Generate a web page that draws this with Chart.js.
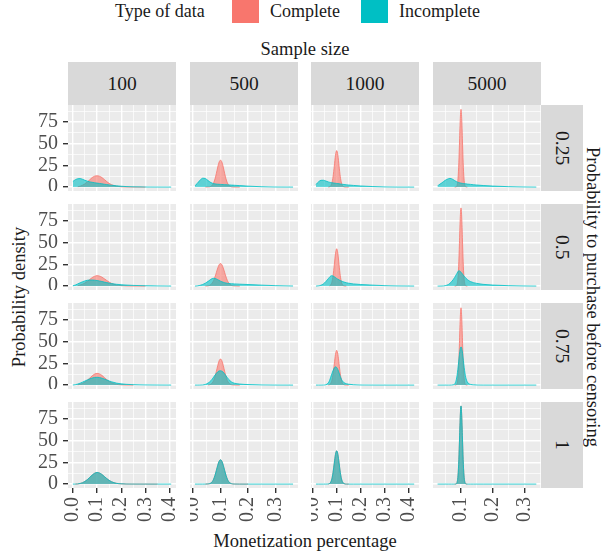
<!DOCTYPE html>
<html>
<head>
<meta charset="utf-8">
<script src="https://cdn.jsdelivr.net/npm/chart.js@4.4.1/dist/chart.umd.min.js"></script>
<style>
body { margin: 0; background: #fff; }
#fig { position: relative; width: 602px; height: 559px; overflow: hidden; font-family: "Liberation Serif", "DejaVu Serif", "Times New Roman", Times, serif; color: #1a1a1a; }
#fig canvas { position: absolute; }
.lbl { position: absolute; font-size: 18px; white-space: nowrap; text-align: center; height: 22px; line-height: 22px; }
.strip { position: absolute; background: #d9d9d9; display: flex; align-items: center; justify-content: center; font-size: 19.5px; }
.strip.right span { writing-mode: vertical-rl; }
.key { position: absolute; }
</style>
</head>
<body>
<div id="fig"></div>
<script>
// facet labels
const sampleSizes = ['100', '500', '1000', '5000'];
const purchaseProbs = ['0.25', '0.5', '0.75', '1'];
const seriesNames = ['Complete', 'Incomplete'];

// y axis (shared)
const yTicks = [0, 25, 50, 75];
const yMinor = [12.5, 37.5, 62.5, 87.5];
const yRange = [-4.5, 94.5];

// x axes (free per sample size column)
const xTicksByCol = [[0, 0.1, 0.2, 0.3, 0.4], [0, 0.1, 0.2, 0.3], [0, 0.1, 0.2, 0.3, 0.4], [0.1, 0.2, 0.3]];
const xMinorByCol = [[0.05, 0.15, 0.25, 0.35], [0.05, 0.15, 0.25, 0.35], [0.05, 0.15, 0.25, 0.35], [0.05, 0.15, 0.25, 0.35]];
const xRangeByCol = [[-0.0203, 0.4269], [-0.011, 0.382], [-0.0067, 0.442], [0.0115, 0.3528]];

// density grids, one per column
const xGrid100 = [0, 0.01, 0.02, 0.03, 0.04, 0.05, 0.06, 0.07, 0.08, 0.09, 0.10, 0.11, 0.12, 0.13, 0.14, 0.15, 0.16, 0.18, 0.20, 0.22, 0.25, 0.30, 0.35, 0.407];
const xGrid500 = [0.007, 0.015, 0.025, 0.035, 0.045, 0.055, 0.065, 0.07, 0.075, 0.08, 0.085, 0.09, 0.095, 0.1, 0.105, 0.11, 0.115, 0.12, 0.125, 0.13, 0.14, 0.15, 0.17, 0.2, 0.25, 0.3, 0.364];
const xGrid1000 = [0.014, 0.025, 0.035, 0.045, 0.055, 0.065, 0.07, 0.075, 0.08, 0.085, 0.09, 0.095, 0.1, 0.105, 0.11, 0.115, 0.12, 0.125, 0.13, 0.14, 0.15, 0.17, 0.2, 0.25, 0.3, 0.35, 0.422];
const xGrid5000 = [0.026, 0.03, 0.04, 0.05, 0.06, 0.065, 0.07, 0.075, 0.08, 0.085, 0.0875, 0.09, 0.0925, 0.095, 0.0975, 0.1, 0.1025, 0.105, 0.1075, 0.11, 0.1125, 0.115, 0.12, 0.125, 0.13, 0.14, 0.15, 0.17, 0.2, 0.25, 0.3, 0.338];

// n = 100
const complete_n100_p025 = [null, null, 0.4, 1.0, 2.2, 3.8, 6.0, 8.5, 11.0, 12.6, 13.0, 12.5, 11.0, 8.8, 6.4, 4.3, 2.8, 1.1, 0.4, 0.15, 0.05, 0, null, null];
const incomplete_n100_p025 = [6.5, 8.5, 9.6, 9.8, 9.0, 7.8, 6.8, 6.0, 5.5, 5.0, 4.6, 4.2, 3.8, 3.3, 2.9, 2.5, 2.1, 1.5, 1.0, 0.6, 0.3, 0.1, 0.05, 0];
const complete_n100_p05 = [null, null, 0.5, 1.2, 2.1, 3.6, 5.5, 7.7, 9.8, 11.4, 12.0, 11.6, 10.3, 8.5, 6.5, 4.6, 3.1, 1.3, 0.5, 0.2, 0.05, 0, null, null];
const incomplete_n100_p05 = [0.3, 1.2, 2.5, 3.8, 5.0, 6.0, 6.7, 7.0, 7.0, 6.8, 6.4, 5.9, 5.3, 4.6, 4.0, 3.4, 2.9, 2.1, 1.6, 1.2, 0.8, 0.4, 0.2, 0.05];
const complete_n100_p075 = [null, null, 0.3, 0.9, 1.9, 3.4, 5.6, 8.1, 10.7, 12.7, 13.5, 12.9, 11.2, 8.8, 6.3, 4.2, 2.6, 0.9, 0.3, 0.1, 0, null, null, null];
const incomplete_n100_p075 = [0.1, 0.5, 1.2, 2.2, 3.4, 4.7, 6.0, 7.2, 8.2, 8.8, 9.0, 8.7, 8.0, 7.0, 5.9, 4.8, 3.8, 2.3, 1.4, 0.9, 0.5, 0.2, 0.1, 0.03];
const complete_n100_p1 = [null, 0.05, 0.2, 0.7, 1.6, 3.1, 5.2, 7.8, 10.4, 12.5, 13.4, 12.8, 11.1, 8.8, 6.4, 4.3, 2.7, 0.9, 0.3, 0.1, 0.05, 0.02, 0, null];
const incomplete_n100_p1 = [0.01, 0.05, 0.2, 0.7, 1.6, 3.1, 5.2, 7.8, 10.4, 12.5, 13.4, 12.8, 11.1, 8.8, 6.4, 4.3, 2.7, 0.9, 0.3, 0.1, 0.05, 0.02, 0.01, 0];

// n = 500
const complete_n500_p025 = [null, null, null, null, 0.1, 0.2, 0.8, 2.2, 4.9, 9.5, 15.9, 23.1, 28.8, 31.0, 28.8, 23.1, 15.9, 9.5, 4.9, 2.2, 0.3, 0.05, 0, null, null, null, null];
const incomplete_n500_p025 = [1.5, 4.0, 7.8, 10.2, 9.8, 7.5, 5.2, 4.5, 4.0, 3.7, 3.5, 3.3, 3.2, 3.1, 3.0, 2.9, 2.8, 2.7, 2.6, 2.5, 2.3, 2.1, 1.7, 1.1, 0.4, 0.1, 0.02];
const complete_n500_p05 = [null, null, null, null, 0.05, 0.3, 1.7, 3.5, 6.5, 10.7, 15.8, 20.8, 24.6, 26.0, 24.6, 20.8, 15.8, 10.7, 6.5, 3.5, 0.8, 0.2, 0, null, null, null, null];
const incomplete_n500_p05 = [0, 0.2, 0.8, 1.8, 3.4, 5.5, 7.8, 8.7, 9.0, 8.8, 8.2, 7.4, 6.5, 5.7, 5.0, 4.4, 3.9, 3.5, 3.2, 3.0, 2.7, 2.5, 2.2, 1.8, 1.1, 0.5, 0.1];
const complete_n500_p075 = [null, null, null, null, null, 0.1, 0.9, 2.4, 5.1, 9.7, 15.9, 22.6, 28.0, 30.0, 28.0, 22.6, 15.9, 9.7, 5.1, 2.4, 0.4, 0.1, 0, null, null, null, null];
const incomplete_n500_p075 = [0, 0, 0.05, 0.2, 0.8, 2.4, 5.0, 6.9, 9.2, 11.5, 13.6, 15.3, 16.3, 16.5, 16.0, 14.8, 12.9, 10.7, 8.5, 6.5, 3.7, 2.2, 1.2, 0.6, 0.2, 0.05, 0];
const complete_n500_p1 = [null, null, null, null, 0.05, 0.2, 1.2, 2.8, 5.7, 10.1, 15.8, 21.7, 26.3, 28.0, 26.3, 21.7, 15.8, 10.1, 5.7, 2.8, 0.5, 0.1, 0.02, 0, null, null, null];
const incomplete_n500_p1 = [0, 0, 0, 0.01, 0.05, 0.2, 1.2, 2.8, 5.7, 10.1, 15.8, 21.7, 26.3, 28.0, 26.3, 21.7, 15.8, 10.1, 5.7, 2.8, 0.5, 0.1, 0.02, 0, 0, 0, 0];

// n = 1000
const complete_n1000_p025 = [null, null, null, null, null, 0.05, 0.3, 1.3, 4.6, 12.1, 24.1, 36.6, 42.0, 36.6, 24.1, 12.1, 4.6, 1.3, 0.3, 0.02, 0, null, null, null, null, null, null];
const incomplete_n1000_p025 = [3.0, 6.2, 7.8, 7.9, 7.0, 6.0, 5.6, 5.3, 5.0, 4.8, 4.6, 4.4, 4.2, 4.0, 3.8, 3.6, 3.4, 3.2, 3.0, 2.7, 2.4, 1.9, 1.3, 0.6, 0.2, 0.05, 0];
const complete_n1000_p05 = [null, null, null, null, null, null, 0.2, 1.2, 4.4, 12.0, 24.3, 37.3, 43.0, 37.3, 24.3, 12.0, 4.4, 1.2, 0.2, 0, null, null, null, null, null, null, null];
const incomplete_n1000_p05 = [0, 0.3, 1.0, 2.6, 5.2, 8.5, 10.2, 11.6, 12.0, 11.6, 10.8, 9.8, 8.8, 7.9, 7.1, 6.4, 5.8, 5.2, 4.7, 3.9, 3.3, 2.5, 1.8, 1.1, 0.5, 0.2, 0.05];
const complete_n1000_p075 = [null, null, null, null, null, 0.1, 0.4, 1.8, 5.4, 13.0, 24.3, 35.3, 40.0, 35.3, 24.3, 13.0, 5.4, 1.8, 0.4, 0.05, 0, null, null, null, null, null, null];
const incomplete_n1000_p075 = [0, 0, 0, 0.1, 0.4, 2.5, 5.0, 9.0, 13.0, 16.8, 19.6, 21.0, 20.3, 17.8, 14.0, 10.0, 6.6, 4.3, 2.9, 1.6, 1.0, 0.4, 0.1, 0.02, 0, 0, 0];
const complete_n1000_p1 = [null, null, null, null, null, 0.1, 0.6, 2.1, 6.0, 13.6, 24.2, 34.2, 38.4, 34.2, 24.2, 13.6, 6.0, 2.1, 0.6, 0.05, 0, null, null, null, null, null, null];
const incomplete_n1000_p1 = [0, 0, 0, 0, 0.02, 0.1, 0.6, 2.1, 6.0, 13.6, 24.2, 34.2, 38.4, 34.2, 24.2, 13.6, 6.0, 2.1, 0.6, 0.05, 0, 0, 0, 0, 0, 0, 0];

// n = 5000
const complete_n5000_p025 = [null, null, null, null, null, null, null, null, 0, 0.3, 1.9, 7.6, 22.3, 48.3, 76.7, 89.5, 76.7, 48.3, 22.3, 7.6, 1.9, 0.3, 0, null, null, null, null, null, null, null, null, null];
const incomplete_n5000_p025 = [1.5, 2.5, 5.0, 7.8, 9.6, 10.0, 9.7, 8.7, 7.5, 6.4, 6.0, 5.6, 5.3, 5.0, 4.8, 4.6, 4.4, 4.2, 4.1, 4.0, 3.9, 3.8, 3.5, 3.3, 3.1, 2.7, 2.4, 1.8, 1.2, 0.5, 0.15, 0.02];
const complete_n5000_p05 = [null, null, null, null, null, null, null, null, 0, 0.3, 1.9, 7.8, 22.8, 48.8, 77.5, 90.0, 77.0, 48.3, 22.3, 7.6, 1.9, 0.3, 0, null, null, null, null, null, null, null, null, null];
const incomplete_n5000_p05 = [0, 0, 0.1, 0.5, 1.8, 3.2, 5.0, 7.3, 10.0, 13.2, 14.8, 16.5, 17.6, 17.5, 16.9, 16.0, 14.9, 13.7, 12.5, 11.4, 10.3, 9.3, 7.6, 6.2, 5.2, 3.9, 3.1, 2.0, 1.2, 0.5, 0.15, 0.03];
const complete_n5000_p075 = [null, null, null, null, null, null, null, null, 0, 0.3, 1.9, 7.5, 22.0, 47.8, 76.0, 89.0, 76.0, 47.8, 22.0, 7.5, 1.9, 0.3, 0, null, null, null, null, null, null, null, null, null];
const incomplete_n5000_p075 = [0, 0, 0, 0, 0, 0, 0.1, 0.3, 1.2, 6.0, 11.0, 18.1, 26.7, 35.2, 41.6, 44.0, 42.0, 36.5, 28.5, 20.5, 13.8, 8.8, 3.5, 1.6, 0.8, 0.3, 0.1, 0.02, 0, 0, 0, 0];
const complete_n5000_p1 = [null, null, null, null, null, null, null, null, 0, 0.3, 1.9, 7.6, 22.3, 48.3, 76.7, 90.0, 76.7, 48.3, 22.3, 7.6, 1.9, 0.3, 0, null, null, null, null, null, null, null, null, null];
const incomplete_n5000_p1 = [0, 0, 0, 0, 0, 0, 0, 0, 0, 0.3, 1.9, 7.6, 22.3, 48.3, 76.7, 90.0, 76.7, 48.3, 22.3, 7.6, 1.9, 0.3, 0, 0, 0, 0, 0, 0, 0, 0, 0, 0];

// lookup table: [row][col] -> [complete, incomplete]
const xGrids = [xGrid100, xGrid500, xGrid1000, xGrid5000];
const panelSeries = [
    [[complete_n100_p025, incomplete_n100_p025], [complete_n500_p025, incomplete_n500_p025], [complete_n1000_p025, incomplete_n1000_p025], [complete_n5000_p025, incomplete_n5000_p025]],
    [[complete_n100_p05, incomplete_n100_p05], [complete_n500_p05, incomplete_n500_p05], [complete_n1000_p05, incomplete_n1000_p05], [complete_n5000_p05, incomplete_n5000_p05]],
    [[complete_n100_p075, incomplete_n100_p075], [complete_n500_p075, incomplete_n500_p075], [complete_n1000_p075, incomplete_n1000_p075], [complete_n5000_p075, incomplete_n5000_p075]],
    [[complete_n100_p1, incomplete_n100_p1], [complete_n500_p1, incomplete_n500_p1], [complete_n1000_p1, incomplete_n1000_p1], [complete_n5000_p1, incomplete_n5000_p1]]
];

const lineColors = ['#F8766D', '#00BFC4'];
const fillColors = ['rgba(248,118,109,0.6)', 'rgba(0,191,196,0.6)'];

// layout
const panelLeft = [68, 190, 311, 433];
const panelTop = [105, 204, 303, 402];
const panelW = 108;
const panelH = 86;
const xAxisH = 50;
const fontFamily = '"Liberation Serif", "DejaVu Serif", "Times New Roman", Times, serif';

Chart.defaults.font.family = fontFamily;
Chart.defaults.color = '#4d4d4d';

const fig = document.getElementById('fig');

function addDiv(cls, text, css) {
    const d = document.createElement('div');
    d.className = cls;
    d.innerHTML = text;
    Object.assign(d.style, css);
    fig.appendChild(d);
    return d;
}

// legend
addDiv('lbl', 'Type of data', { left: '115px', top: '0px', textAlign: 'left' });
addDiv('key', '', { left: '232px', top: '0px', width: '27px', height: '23px', background: lineColors[0] });
addDiv('lbl', seriesNames[0], { left: '270px', top: '0px', textAlign: 'left' });
addDiv('key', '', { left: '361px', top: '0px', width: '27px', height: '23px', background: lineColors[1] });
addDiv('lbl', seriesNames[1], { left: '399px', top: '0px', textAlign: 'left' });

// titles
addDiv('lbl', 'Sample size', { left: '205px', width: '200px', top: '38px', fontSize: '18.5px' });
addDiv('lbl', 'Monetization percentage', { left: '155px', width: '300px', top: '530px', fontSize: '18.5px' });
addDiv('lbl', 'Probability density', { left: '-81px', width: '200px', top: '286px', fontSize: '18.5px', transform: 'rotate(-90deg)' });
addDiv('lbl', 'Probability to purchase before censoring', { left: '393px', width: '400px', top: '286px', fontSize: '18.5px', transform: 'rotate(90deg)' });

// strips
sampleSizes.forEach((s, c) => {
    addDiv('strip', s, { left: panelLeft[c] + 'px', top: '62px', width: panelW + 'px', height: '43px' });
});
purchaseProbs.forEach((p, r) => {
    addDiv('strip right', '<span>' + p + '</span>', { left: '541px', top: panelTop[r] + 'px', width: '42px', height: panelH + 'px' });
});

// grey panel background
const panelBg = {
    id: 'panelBg',
    beforeDraw(chart) {
        const { ctx, chartArea: a } = chart;
        ctx.save();
        ctx.fillStyle = '#ebebeb';
        ctx.fillRect(a.left, a.top, a.right - a.left, a.bottom - a.top);
        ctx.restore();
    }
};

function makePanel(r, c) {
    const isLeft = c === 0;
    const isBottom = r === 3;
    const canvas = document.createElement('canvas');
    const w = isLeft ? panelLeft[0] + panelW : panelW;
    const h = panelH + (isBottom ? xAxisH : 0);
    canvas.width = w;
    canvas.height = h;
    canvas.style.left = (isLeft ? 0 : panelLeft[c]) + 'px';
    canvas.style.top = panelTop[r] + 'px';
    fig.appendChild(canvas);

    const xTicks = xTicksByCol[c];
    const xMinor = xMinorByCol[c];
    const xs = xGrids[c];

    const datasets = panelSeries[r][c].map((ys, k) => ({
        label: seriesNames[k],
        data: xs.map((x, i) => ({ x: x, y: ys[i] })),
        borderColor: lineColors[k],
        backgroundColor: fillColors[k],
        borderWidth: 0.8,
        fill: 'origin',
        pointRadius: 0,
        cubicInterpolationMode: 'monotone',
        order: 2 - k
    }));

    new Chart(canvas.getContext('2d'), {
        type: 'line',
        data: { datasets: datasets },
        plugins: [panelBg],
        options: {
            responsive: false,
            animation: false,
            events: [],
            layout: { padding: 0 },
            plugins: { legend: { display: false }, tooltip: { enabled: false } },
            scales: {
                x: {
                    type: 'linear',
                    min: xRangeByCol[c][0],
                    max: xRangeByCol[c][1],
                    afterBuildTicks: s => {
                        s.ticks = xTicks.concat(xMinor).sort((a, b) => a - b).map(v => ({ value: v }));
                    },
                    afterFit: s => {
                        s.height = isBottom ? xAxisH : 0;
                        s.paddingLeft = 0;
                        s.paddingRight = 0;
                    },
                    border: { display: false },
                    grid: {
                        color: '#ffffff',
                        lineWidth: ctx => (ctx.tick && xTicks.includes(ctx.tick.value)) ? 1.4 : 0.7,
                        drawTicks: isBottom,
                        tickLength: 5,
                        tickWidth: 1.4,
                        tickColor: ctx => (ctx.tick && xTicks.includes(ctx.tick.value)) ? '#333333' : 'rgba(0,0,0,0)'
                    },
                    ticks: {
                        display: isBottom,
                        autoSkip: false,
                        minRotation: 90,
                        maxRotation: 90,
                        padding: 4,
                        color: '#4d4d4d',
                        font: { size: 20 },
                        callback: v => xTicks.includes(v) ? v.toFixed(1) : ''
                    }
                },
                y: {
                    type: 'linear',
                    min: yRange[0],
                    max: yRange[1],
                    afterBuildTicks: s => {
                        s.ticks = yTicks.concat(yMinor).sort((a, b) => a - b).map(v => ({ value: v }));
                    },
                    afterFit: s => {
                        s.width = isLeft ? panelLeft[0] : 0;
                        s.paddingTop = 0;
                        s.paddingBottom = 0;
                    },
                    border: { display: false },
                    grid: {
                        color: '#ffffff',
                        lineWidth: ctx => (ctx.tick && yTicks.includes(ctx.tick.value)) ? 1.4 : 0.7,
                        drawTicks: isLeft,
                        tickLength: 5,
                        tickWidth: 1.4,
                        tickColor: ctx => (ctx.tick && yTicks.includes(ctx.tick.value)) ? '#333333' : 'rgba(0,0,0,0)'
                    },
                    ticks: {
                        display: isLeft,
                        autoSkip: false,
                        padding: 5,
                        color: '#4d4d4d',
                        font: { size: 20 },
                        callback: v => yTicks.includes(v) ? String(v) : ''
                    }
                }
            }
        }
    });
}

for (let r = 0; r < 4; r++) {
    for (let c = 0; c < 4; c++) {
        makePanel(r, c);
    }
}
</script>
</body>
</html>
